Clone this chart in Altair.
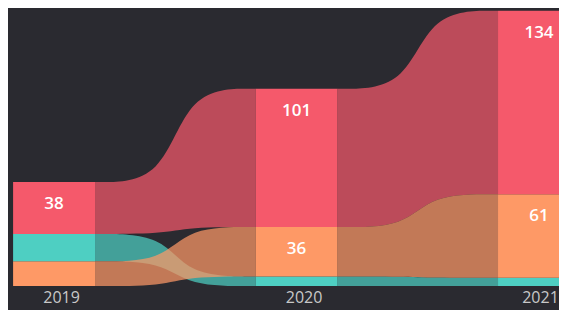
import json
import altair as alt
import pandas as pd

# ---- data ----
years = ["2019", "2020", "2021"]
series = ["Red", "Teal", "Orange"]
red_values = [38, 101, 134]
teal_values = [20, 7, 6]
orange_values = [18, 36, 61]
colors = ["#F5596B", "#4ECFC2", "#FE9966"]

values = {"Red": red_values, "Teal": teal_values, "Orange": orange_values}

BG = "#2A2A30"
HALF = 0.169          # half bar width in category units
SPREAD = 0.42         # where the ribbon's inner control points sit
X_DOMAIN = [-0.19, 2.0825]
Y_DOMAIN = [0, 203]

# ---- stacked segments (largest on top, ribbon-chart ranking) ----
rows = []
for i, yr in enumerate(years):
    vals = sorted(((values[s][i], s) for s in series), key=lambda t: t[0])
    base = 0
    for v, s in vals:
        rows.append({"idx": i, "year": yr, "series": s, "value": int(v),
                     "y0": int(base), "y1": int(base + v),
                     "xl": i - HALF, "xr": i + HALF})
        base += v
bars = pd.DataFrame(rows)

# ---- ribbons between consecutive bars (ends taken from the stacks) ----
rib = []
for i in range(len(years) - 1):
    for s in series:
        a = [r for r in rows if r["idx"] == i and r["series"] == s][0]
        b = [r for r in rows if r["idx"] == i + 1 and r["series"] == s][0]
        x0, x1 = a["xr"], b["xl"]
        L = x1 - x0
        pts = [(x0, a["y0"], a["y1"]), (x0 + SPREAD * L, a["y0"], a["y1"]),
               (x1 - SPREAD * L, b["y0"], b["y1"]), (x1, b["y0"], b["y1"])]
        for k, (x, lo, hi) in enumerate(pts):
            rib.append({"seg": f"{s}-{i}", "series": s, "k": k,
                        "px": float(x), "lo": lo, "hi": hi})
ribbons = pd.DataFrame(rib)

xscale = alt.Scale(domain=X_DOMAIN, nice=False, zero=False)
yscale = alt.Scale(domain=Y_DOMAIN, nice=False)
cscale = alt.Scale(domain=series, range=colors)

label_expr = json.dumps(years) + "[datum.value]"

x_axis = alt.Axis(values=[0, 1, 2], labelExpr=label_expr, title=None,
                  domain=False, ticks=False, grid=False,
                  labelColor="#C8C8C8", labelFontSize=16,
                  labelFont="Open Sans", labelPadding=3,
                  labelOffset={"condition": {"test": "datum.value == 2", "value": 1},
                               "value": 7},
                  labelFlush=False,
                  labelOverlap=False, labelBound=False)

ribbon_layer = alt.Chart(ribbons).mark_area(
    interpolate="basis", opacity=0.72, orient="vertical"
).encode(
    x=alt.X("px:Q", scale=xscale, axis=x_axis),
    y=alt.Y("hi:Q", scale=yscale, axis=None),
    y2="lo:Q",
    color=alt.Color("series:N", scale=cscale, legend=None),
    detail="seg:N",
)

bar_layer = alt.Chart(bars).mark_rect(clip=True).encode(
    x=alt.X("xl:Q", scale=xscale),
    x2="xr:Q",
    y=alt.Y("y0:Q", scale=yscale),
    y2="y1:Q",
    color=alt.Color("series:N", scale=cscale, legend=None),
)

text_layer = alt.Chart(bars).transform_filter(
    "datum.value >= 30"
).mark_text(
    color="white", font="Open Sans", fontSize=17, fontWeight=600,
    baseline="middle", dy=22, clip=True
).encode(
    x=alt.X("idx:Q", scale=xscale),
    y=alt.Y("y1:Q", scale=yscale),
    text="value:Q",
)

chart = alt.layer(ribbon_layer, bar_layer, text_layer).properties(
    width=551, height=278,
    background=BG,
    padding={"left": 0, "top": 0, "right": 0, "bottom": 24},
    autosize=alt.AutoSizeParams(type="none"),
).configure_view(stroke=None)

chart.save("out.html", embed_options={"renderer": "svg", "actions": False})
